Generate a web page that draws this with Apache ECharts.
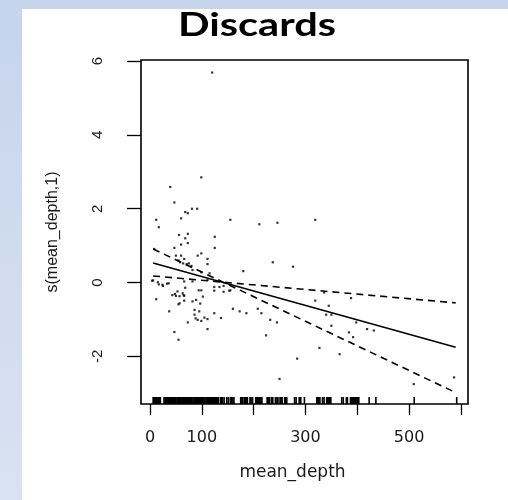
<!DOCTYPE html>
<html>
<head>
<meta charset="utf-8">
<script src="https://cdn.jsdelivr.net/npm/echarts@6/dist/echarts.min.js"></script>
<style>html,body{margin:0;padding:0;background:#fff;}#c{width:508px;height:500px;}</style>
</head>
<body>
<div id="c"></div>
<script>
// ---- data ----
const titleText = 'Discards';
const xTickValues = [0, 100, 200, 300, 400, 500, 600];
const xLabelValues = [0, 100, 300, 500];
const yTickValues = [-2, 0, 2, 4, 6];
const xRange = [-17.4, 613.8];
const yRange = [-3.29, 6.03];

// partial residuals
const residX = [120,99,39,47,81,91,68,73,60,12,17,155,211,246,319,56,73,68,60,73,125,8,47,125,99,92,50,60,55,66,71,111,111,237,276,180,82,99,115,4,15,24,36,66,82,111,124,124,134,153,53,63,50,66,57,66,89,82,102,12,37,86,95,86,92,105,111,124,137,160,173,186,208,215,232,245,73,111,47,55,224,284,250,319,345,340,350,350,327,366,384,392,398,419,432,509,587,336,388,43,48,57,65,68,55,97,94,99,17,25,33,6,142,142,155,99,88,58,64,75,80];
const residY = [5.69,2.85,2.59,2.17,2.0,2.0,1.91,1.88,1.74,1.70,1.50,1.70,1.58,1.62,1.70,1.29,1.32,1.20,1.03,1.07,1.24,0.91,0.94,0.94,0.79,0.73,0.73,0.73,0.60,0.64,0.50,0.64,0.50,0.55,0.43,0.31,0.34,0.28,0.25,0.05,0.01,-0.06,-0.02,0.03,0.03,0.07,-0.12,-0.22,-0.12,-0.22,-0.24,-0.29,-0.36,-0.36,-0.56,-0.49,-0.47,-0.51,-0.38,-0.45,-0.78,-0.74,-0.78,-0.87,-1.01,-0.95,-0.99,-0.83,-0.96,-0.71,-0.78,-0.83,-0.71,-0.83,-1.01,-1.08,-1.08,-1.26,-1.34,-1.55,-1.43,-2.06,-2.61,-0.49,-0.63,-0.87,-0.87,-1.17,-1.77,-1.94,-1.35,-1.48,-1.08,-1.26,-1.30,-2.75,-2.57,-0.27,-0.42,-0.34,-0.31,-0.37,-0.34,-0.14,-0.59,-0.57,-0.21,-0.21,-0.05,-0.09,-0.03,0.06,-0.09,-0.25,-0.21,-1.04,-0.97,0.55,0.52,0.52,0.45];

// smooth term and its +/- 2 se band (linear term)
const fitX = [6, 590];
const fitY = [0.53, -1.75];
const bandAX = [6, 590];
const bandAY = [0.91, -2.98];
const bandBX = [6, 590];
const bandBY = [0.18, -0.55];

// rug of observed mean_depth
const rugX = [6,8,10,12,14,16,18,20,27,29,30,32,34,35,37,39,40,42,44,45,47,49,50,52,54,55,57,59,60,62,64,66,67,69,71,73,74,76,78,80,81,83,85,87,88,90,92,94,95,97,99,101,102,104,106,108,110,111,113,115,117,119,120,122,124,126,128,130,132,136,138,140,143,148,151,155,157,160,162,175,177,179,182,184,186,188,193,195,198,204,206,208,210,212,214,216,226,228,230,234,237,242,245,247,251,253,255,260,262,264,279,282,288,291,298,322,324,326,328,333,336,341,343,345,347,349,370,373,379,381,387,389,391,393,395,397,399,401,403,423,436,510,592];

const zip = (a, b) => a.map((v, i) => [v, b[i]]);

const chart = echarts.init(document.getElementById('c'), null, {renderer: 'canvas'});
const txt = '#1a1a1a';
const font = 'DejaVu Sans, Verdana, sans-serif';
chart.setOption({
  animation: false,
  backgroundColor: '#ffffff',
  graphic: [
    {type: 'rect', z: -10, shape: {x: 0, y: 0, width: 508, height: 9}, style: {fill: '#c6d4ec'}},
    {type: 'rect', z: -10, shape: {x: 0, y: 0, width: 22, height: 500},
      style: {fill: new echarts.graphic.LinearGradient(0, 0, 0, 1, [{offset: 0, color: '#c6d4ec'}, {offset: 1, color: '#d9e2f2'}])}},
    {type: 'text', x: 257, y: 42, scaleX: 1.3, scaleY: 1,
      style: {text: titleText, font: 'bold 32px Lato, "Open Sans", sans-serif', fill: '#000', textAlign: 'center', textVerticalAlign: 'bottom'}}
  ],
  grid: {left: 141, top: 60, width: 327, height: 344, show: true, borderColor: '#000', borderWidth: 1.6, backgroundColor: 'transparent'},
  xAxis: {
    type: 'value', min: xRange[0], max: xRange[1],
    name: 'mean_depth', nameLocation: 'middle', nameGap: 60,
    nameTextStyle: {fontFamily: font, fontSize: 17, color: txt, padding: [0, 24, 0, 0]},
    axisLine: {show: false, onZero: false},
    axisTick: {show: true, customValues: xTickValues, length: 11, lineStyle: {color: '#000', width: 1.3}},
    axisLabel: {customValues: xLabelValues, margin: 26, fontFamily: font, fontSize: 16, color: txt},
    splitLine: {show: false}
  },
  yAxis: {
    type: 'value', min: yRange[0], max: yRange[1],
    name: 's(mean_depth,1)', nameLocation: 'middle', nameGap: 80, nameRotate: 90,
    nameTextStyle: {fontFamily: 'Liberation Sans, Arial, sans-serif', fontSize: 16, color: txt},
    axisLine: {show: false, onZero: false},
    axisTick: {show: true, customValues: yTickValues, length: 14, lineStyle: {color: '#000', width: 1.3}},
    axisLabel: {customValues: yTickValues, rotate: 90, margin: 36, fontFamily: 'Liberation Sans, Arial, sans-serif', fontSize: 15, color: txt},
    splitLine: {show: false}
  },
  series: [
    {type: 'scatter', data: zip(residX, residY), symbol: 'rect', symbolSize: 2.2, itemStyle: {color: '#000'}, silent: true},
    {type: 'line', data: zip(fitX, fitY), showSymbol: false, lineStyle: {color: '#000', width: 1.6}},
    {type: 'line', data: zip(bandAX, bandAY), showSymbol: false, lineStyle: {color: '#000', width: 1.6, type: [7, 5]}},
    {type: 'line', data: zip(bandBX, bandBY), showSymbol: false, lineStyle: {color: '#000', width: 1.6, type: [7, 5]}},
    {type: 'custom', data: rugX.map(v => [v]), renderItem: function (params, api) {
        const p = api.coord([api.value(0), yRange[0]]);
        return {type: 'line', shape: {x1: p[0], y1: p[1], x2: p[0], y2: p[1] - 7}, style: {stroke: '#000', lineWidth: 1.6}};
      }, encode: {x: 0}, silent: true}
  ]
});
</script>
</body>
</html>
